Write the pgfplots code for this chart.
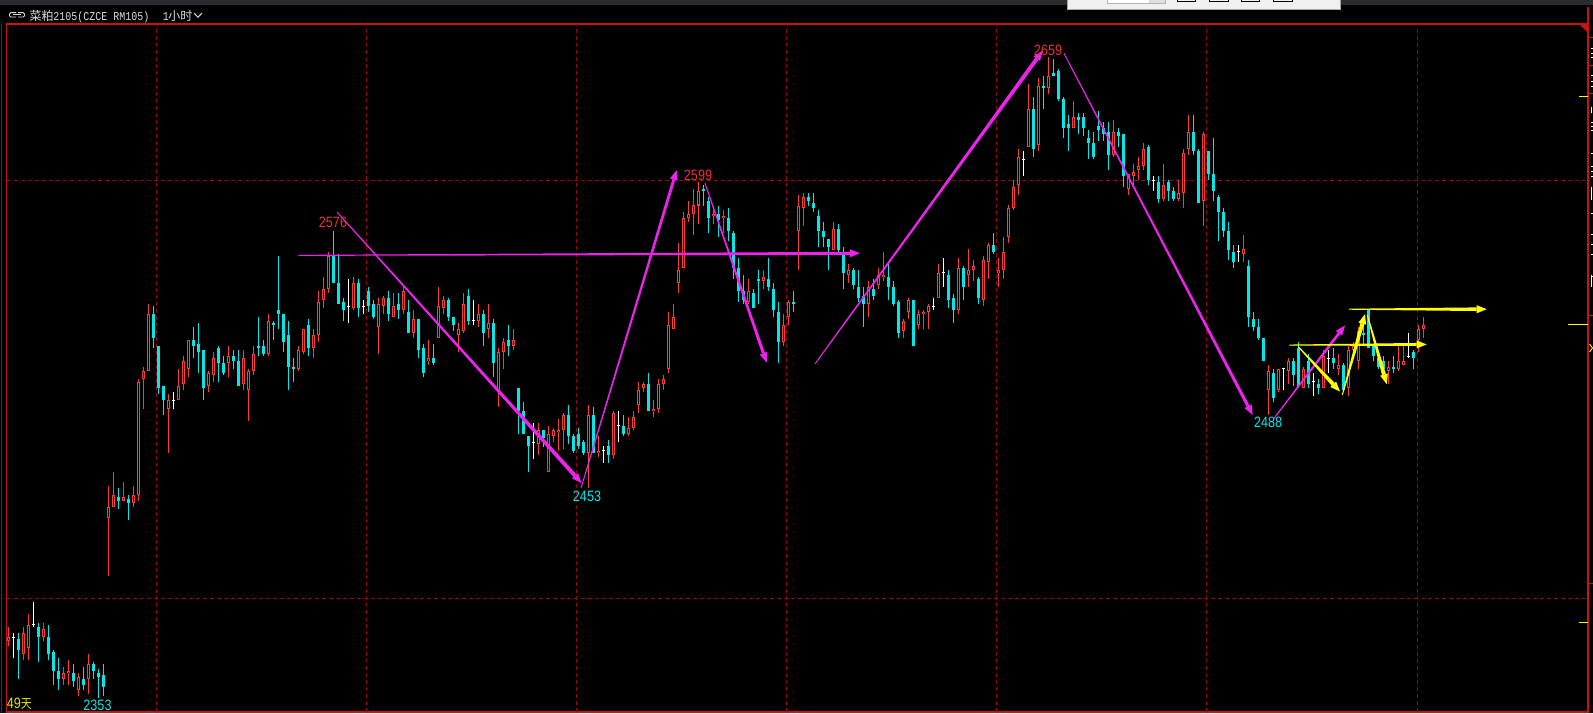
\documentclass[border=0pt]{standalone}
\usepackage{pgfplots}
\usepackage{pgfplotstable}
\pgfplotsset{compat=1.18}
\usetikzlibrary{calc}
\usepackage{fontspec}
\setmainfont{Liberation Sans}
\newfontfamily\cjk{Noto Sans CJK SC}
\newfontfamily\mono{Liberation Mono}

\definecolor{upred}{RGB}{255,58,58}
\definecolor{dncyan}{RGB}{0,232,232}
\definecolor{framered}{RGB}{205,18,18}
\definecolor{gridred}{RGB}{150,8,8}
\definecolor{magentapen}{RGB}{235,35,235}
\definecolor{yel}{RGB}{255,255,0}
\definecolor{lblred}{RGB}{235,50,50}
\definecolor{topbar}{RGB}{42,44,48}
\definecolor{titlegray}{RGB}{220,220,220}

% hourly candles: index, open, high, low, close
\pgfplotstableread{
i O H L C
0 2380 2387 2378 2382
1 2382 2384 2372 2382
2 2381 2384 2362 2376
3 2374 2387 2371 2384
4 2377 2393 2371 2388
5 2388 2399 2387 2388
6 2387 2389 2370 2382
7 2382 2389 2380 2386
8 2382 2388 2371 2374
9 2375 2376 2359 2366
10 2366 2372 2357 2362
11 2362 2368 2359 2365
12 2365 2371 2359 2366
13 2365 2369 2358 2361
14 2357 2365 2354 2363
15 2362 2368 2357 2359
16 2362 2374 2355 2369
17 2369 2370 2362 2366
18 2365 2367 2353 2363
19 2364 2369 2354 2358
20 2439 2454 2411 2444
21 2444 2461 2444 2450
22 2449 2453 2443 2447
23 2447 2456 2447 2449
24 2448 2450 2438 2446
25 2446 2454 2444 2450
26 2450 2505 2447 2504
27 2505 2511 2491 2509
28 2509 2541 2509 2536
29 2536 2540 2520 2525
30 2521 2521 2498 2501
31 2502 2502 2488 2495
32 2491 2498 2470 2495
33 2495 2499 2491 2495
34 2495 2510 2495 2502
35 2503 2516 2500 2514
36 2510 2524 2506 2524
37 2524 2530 2515 2521
38 2522 2532 2508 2518
39 2519 2519 2495 2501
40 2502 2509 2499 2508
41 2507 2518 2504 2515
42 2520 2521 2504 2513
43 2513 2516 2507 2508
44 2513 2521 2506 2516
45 2516 2519 2510 2514
46 2514 2519 2502 2502
47 2503 2519 2500 2515
48 2500 2510 2485 2509
49 2509 2521 2507 2517
50 2521 2535 2516 2520
51 2521 2524 2516 2517
52 2517 2536 2516 2533
53 2532 2533 2524 2531
54 2538 2564 2529 2536
55 2536 2536 2518 2523
56 2526 2533 2500 2511
57 2511 2515 2504 2510
58 2510 2521 2509 2519
59 2518 2529 2517 2529
60 2531 2534 2516 2520
61 2520 2529 2515 2526
62 2526 2547 2523 2542
63 2543 2554 2539 2548
64 2548 2566 2546 2564
65 2564 2576 2551 2551
66 2551 2565 2541 2541
67 2542 2544 2533 2538
68 2540 2553 2532 2540
69 2539 2554 2538 2551
70 2551 2553 2535 2539
71 2540 2543 2536 2540
72 2547 2549 2537 2540
73 2541 2543 2534 2535
74 2530 2544 2517 2541
75 2540 2545 2536 2544
76 2544 2547 2533 2536
77 2535 2546 2535 2540
78 2541 2546 2534 2538
79 2538 2549 2536 2547
80 2537 2543 2527 2527
81 2527 2538 2525 2534
82 2534 2534 2515 2519
83 2520 2522 2506 2508
84 2514 2524 2512 2515
85 2515 2522 2512 2513
86 2525 2549 2525 2540
87 2539 2545 2536 2543
88 2543 2544 2533 2535
89 2535 2535 2528 2531
90 2526 2532 2518 2529
91 2528 2546 2527 2541
92 2545 2548 2531 2533
93 2533 2543 2531 2533
94 2533 2541 2530 2536
95 2536 2538 2521 2527
96 2529 2541 2525 2532
97 2532 2534 2506 2513
98 2500 2520 2492 2518
99 2518 2525 2510 2523
100 2524 2531 2516 2521
101 2521 2529 2519 2524
102 2501 2501 2479 2490
103 2490 2494 2479 2479
104 2478 2478 2461 2473
105 2475 2484 2467 2475
106 2474 2484 2469 2481
107 2481 2481 2473 2477
108 2461 2483 2461 2479
109 2478 2482 2475 2481
110 2480 2486 2471 2481
111 2481 2489 2472 2488
112 2488 2493 2474 2478
113 2478 2479 2470 2471
114 2479 2482 2472 2473
115 2475 2476 2469 2470
116 2470 2493 2453 2488
117 2488 2492 2470 2470
118 2470 2478 2468 2471
119 2471 2473 2465 2471
120 2473 2476 2465 2469
121 2469 2490 2467 2489
122 2483 2490 2475 2483
123 2483 2488 2478 2479
124 2479 2487 2478 2482
125 2482 2490 2481 2487
126 2493 2504 2489 2500
127 2501 2504 2499 2503
128 2503 2508 2490 2490
129 2490 2495 2487 2491
130 2491 2505 2489 2503
131 2503 2507 2500 2505
132 2510 2537 2508 2531
133 2529 2541 2529 2535
134 2551 2570 2546 2557
135 2558 2585 2558 2582
136 2582 2590 2580 2584
137 2584 2596 2574 2588
138 2588 2599 2579 2595
139 2596 2598 2588 2595
140 2590 2592 2575 2582
141 2583 2586 2579 2584
142 2584 2588 2573 2581
143 2582 2586 2575 2583
144 2582 2587 2571 2576
145 2575 2576 2553 2558
146 2558 2563 2542 2547
147 2547 2555 2541 2543
148 2542 2553 2541 2547
149 2546 2548 2539 2539
150 2553 2557 2541 2552
151 2552 2557 2548 2554
152 2553 2563 2547 2549
153 2548 2551 2535 2538
154 2537 2542 2513 2523
155 2523 2536 2521 2531
156 2535 2543 2531 2542
157 2542 2547 2537 2541
158 2576 2593 2557 2588
159 2587 2594 2578 2592
160 2592 2594 2588 2590
161 2589 2594 2585 2587
162 2583 2586 2568 2576
163 2576 2580 2568 2573
164 2572 2572 2557 2568
165 2567 2580 2567 2577
166 2577 2579 2566 2567
167 2565 2568 2548 2556
168 2555 2560 2551 2557
169 2557 2558 2548 2550
170 2549 2557 2542 2544
171 2545 2549 2530 2541
172 2541 2552 2535 2549
173 2548 2553 2543 2545
174 2550 2558 2548 2555
175 2554 2566 2552 2555
176 2554 2560 2543 2549
177 2549 2552 2540 2541
178 2542 2543 2525 2527
179 2528 2534 2525 2533
180 2537 2544 2534 2543
181 2543 2543 2521 2521
182 2531 2538 2529 2536
183 2536 2538 2529 2537
184 2537 2541 2529 2540
185 2540 2544 2538 2540
186 2544 2560 2544 2556
187 2556 2563 2549 2556
188 2555 2557 2539 2543
189 2544 2546 2532 2538
190 2538 2563 2536 2558
191 2558 2559 2543 2549
192 2555 2567 2549 2557
193 2557 2562 2552 2559
194 2553 2554 2541 2544
195 2543 2564 2540 2562
196 2561 2570 2553 2569
197 2569 2575 2565 2566
198 2556 2563 2549 2557
199 2557 2573 2553 2566
200 2573 2588 2570 2587
201 2587 2600 2586 2597
202 2598 2615 2593 2611
203 2610 2614 2602 2610
204 2616 2646 2616 2634
205 2634 2640 2611 2615
206 2617 2649 2614 2645
207 2645 2650 2634 2644
208 2644 2659 2641 2650
209 2651 2658 2650 2650
210 2652 2653 2638 2639
211 2639 2640 2620 2625
212 2627 2631 2614 2625
213 2625 2638 2625 2630
214 2630 2632 2622 2629
215 2630 2632 2621 2625
216 2620 2624 2610 2618
217 2618 2623 2610 2611
218 2626 2633 2619 2624
219 2625 2628 2619 2622
220 2623 2628 2605 2612
221 2612 2629 2611 2623
222 2623 2625 2616 2621
223 2622 2622 2597 2602
224 2596 2603 2593 2603
225 2602 2608 2598 2604
226 2605 2611 2600 2607
227 2607 2618 2605 2615
228 2616 2617 2598 2600
229 2600 2602 2595 2600
230 2599 2602 2589 2591
231 2591 2608 2590 2598
232 2599 2600 2590 2595
233 2595 2597 2590 2591
234 2591 2600 2590 2594
235 2594 2615 2587 2613
236 2615 2631 2612 2623
237 2623 2631 2612 2614
238 2614 2615 2589 2589
239 2590 2623 2578 2622
240 2614 2614 2600 2603
241 2603 2620 2590 2595
242 2592 2593 2571 2585
243 2585 2587 2573 2576
244 2576 2580 2562 2567
245 2566 2569 2558 2561
246 2566 2569 2561 2566
247 2565 2574 2561 2567
248 2559 2562 2530 2535
249 2534 2537 2528 2530
250 2530 2534 2524 2525
251 2525 2525 2514 2514
252 2500 2512 2488 2509
253 2508 2510 2494 2496
254 2500 2510 2499 2510
255 2510 2510 2500 2510
256 2509 2515 2503 2514
257 2514 2515 2502 2507
258 2520 2523 2501 2502
259 2501 2511 2501 2510
260 2514 2517 2501 2503
261 2504 2508 2497 2504
262 2503 2505 2498 2501
263 2501 2519 2501 2516
264 2515 2519 2508 2515
265 2515 2520 2510 2513
266 2510 2517 2507 2512
267 2512 2513 2500 2500
268 2501 2521 2497 2519
269 2519 2523 2518 2521
270 2514 2530 2510 2528
271 2527 2532 2521 2526
272 2538 2538 2520 2520
273 2521 2521 2514 2516
274 2515 2517 2510 2511
275 2514 2516 2508 2510
276 2509 2514 2503 2511
277 2511 2516 2508 2510
278 2510 2521 2509 2514
279 2512 2521 2512 2514
280 2516 2527 2515 2516
281 2518 2519 2510 2515
282 2524 2531 2518 2529
283 2529 2535 2525 2531
}\candles

% hand-drawn style arrow: thin start, thick end, triangular head
\newcommand{\penarrow}[4]{%
  \coordinate (pa) at (axis cs:#2);
  \coordinate (pb) at (axis cs:#3);
  \coordinate (pc) at ($(pb)!10pt!(pa)$);
  \fill[#1] ($(pa)!0.5pt!90:(pc)$) -- ($(pc)!#4!-90:(pa)$) -- ($(pc)!#4!90:(pa)$) -- ($(pa)!0.5pt!-90:(pc)$) -- cycle;
  \fill[#1] (pb) -- ($(pc)!4pt!-90:(pa)$) -- ($(pc)!4pt!90:(pa)$) -- cycle;
}

\pgfplotsset{
  wick/.style={draw=none, mark=none,
    error bars/.cd, y dir=both, y explicit, error mark=none,
    error bar style={draw=#1, line width=1pt}},
}
\tikzset{
  lbl/.style={inner sep=0pt, font=\fontsize{15}{15}\selectfont, xscale=0.84},
  dgrid/.style={draw=gridred, line width=1pt, dash pattern=on 4pt off 3pt},
}

\begin{document}
\begin{tikzpicture}
\fill[black] (0pt,0pt) rectangle (1593pt,713pt);
\path[use as bounding box] (0pt,0pt) rectangle (1593pt,713pt);
\fill[topbar] (0pt,708pt) rectangle (1593pt,713pt);

\begin{axis}[
  at={(6.5pt,1pt)}, anchor=south west,
  scale only axis, width=1581.5pt, height=688pt,
  xmin=-0.36, xmax=315.94, ymin=2346.3, ymax=2674.6,
  axis line style={draw=framered, line width=1.3pt},
  xtick=\empty, ytick=\empty,
]
% session separators and price guides
\foreach \gx in {29.6,71.64,113.64,155.68,197.7,239.72,281.74}
  {\edef\tmp{\noexpand\draw[dgrid] (axis cs:\gx,2346.3) -- (axis cs:\gx,2674.6);}\tmp}
\draw[dgrid] (axis cs:-0.36,2600) -- (axis cs:315.94,2600);
\draw[dgrid] (axis cs:-0.36,2400.6) -- (axis cs:315.94,2400.6);

% wicks
\addplot[restrict expr to domain={\thisrow{C}-\thisrow{O}}{0.1:999}, wick=upred]
  table[x=i, y expr={(\thisrow{H}+\thisrow{L})/2}, y error expr={(\thisrow{H}-\thisrow{L})/2}] {\candles};
\addplot[restrict expr to domain={\thisrow{C}-\thisrow{O}}{-999:-0.1}, wick=dncyan]
  table[x=i, y expr={(\thisrow{H}+\thisrow{L})/2}, y error expr={(\thisrow{H}-\thisrow{L})/2}] {\candles};
\addplot[restrict expr to domain={\thisrow{C}-\thisrow{O}}{-0.05:0.05}, wick=white]
  table[x=i, y expr={(\thisrow{H}+\thisrow{L})/2}, y error expr={(\thisrow{H}-\thisrow{L})/2}] {\candles};

% up bodies: hollow red
\addplot[draw=none, mark=none, restrict expr to domain={\thisrow{C}-\thisrow{O}}{0.1:999},
  error bars/.cd, y dir=both, y explicit, error mark=none,
  error bar style={draw=upred, line width=3.2pt}]
  table[x=i, y expr={(\thisrow{O}+\thisrow{C})/2}, y error expr={(\thisrow{C}-\thisrow{O})/2}] {\candles};
\addplot[draw=none, mark=none, restrict expr to domain={\thisrow{C}-\thisrow{O}}{0.1:999},
  error bars/.cd, y dir=both, y explicit, error mark=none,
  error bar style={draw=black, line width=1.2pt}]
  table[x=i, y expr={(\thisrow{O}+\thisrow{C})/2}, y error expr={max((\thisrow{C}-\thisrow{O})/2-0.48,0)}] {\candles};

% down bodies: filled cyan
\addplot[draw=none, mark=none, restrict expr to domain={\thisrow{C}-\thisrow{O}}{-999:-0.1},
  error bars/.cd, y dir=both, y explicit, error mark=none,
  error bar style={draw=dncyan, line width=3.2pt}]
  table[x=i, y expr={(\thisrow{O}+\thisrow{C})/2}, y error expr={max((\thisrow{O}-\thisrow{C})/2,0.3)}] {\candles};

% doji ticks
\addplot[only marks, mark=-, mark size=1.7pt, mark options={draw=white, line width=1pt},
  restrict expr to domain={\thisrow{C}-\thisrow{O}}{-0.05:0.05}]
  table[x=i, y=O] {\candles};

% trend arrows
\penarrow{magentapen}{65.74,2584.9}{114.68,2455.5}{2pt}
\penarrow{magentapen}{58.0,2564.2}{170.34,2565.2}{1.5pt}
\penarrow{magentapen}{114.54,2453.1}{133.68,2604.9}{1.5pt}
\penarrow{magentapen}{139.34,2598.6}{151.68,2513.0}{1.6pt}
\penarrow{magentapen}{161.34,2512.4}{206.88,2661.9}{2pt}
\penarrow{magentapen}{211.14,2660.6}{248.88,2488.0}{1.6pt}
\penarrow{magentapen}{253.0,2486.0}{267.34,2530.8}{1.4pt}
\penarrow{yel}{256.2,2521.4}{283.68,2521.7}{1.5pt}
\penarrow{yel}{268.14,2538.5}{295.68,2538.5}{1.8pt}
\penarrow{yel}{258.0,2520.6}{266.34,2499.2}{2pt}
\penarrow{yel}{266.8,2497.6}{271.34,2536.2}{2pt}
\penarrow{yel}{271.8,2535.8}{275.68,2502.7}{2pt}

% swing labels
\node[lbl, text=lblred] at (axis cs:64.94,2580.1) {2576};
\node[lbl, text=dncyan] at (axis cs:115.74,2449.4) {2453};
\node[lbl, text=lblred] at (axis cs:137.94,2602.6) {2599};
\node[lbl, text=lblred] at (axis cs:207.94,2662.2) {2659};
\node[lbl, text=dncyan] at (axis cs:251.94,2484.7) {2488};
\node[lbl, text=dncyan] at (axis cs:17.84,2349.6) {2353};
\node[lbl, text=yel!90!black, anchor=west] at (axis cs:-0.32,2350.4) {49{\cjk\fontsize{13}{13}\selectfont 天}};
\end{axis}

\begin{scope}[x=1pt, y=1pt]
% left border and right price scale remains
\draw[gray!45!black, line width=1.5] (1.5,0) -- (1.5,690);
\draw[framered, line width=1.3] (1588,689) -- (1588,706);
\fill[framered] (1579,689) -- (1588,689) -- (1588,680) -- cycle;
\foreach \yy in {675.5,647,619,397,130} \draw[framered, line width=1] (1588,\yy) -- (1593,\yy);
\draw[yel, line width=1] (1579,616.7) -- (1588,616.7);
\draw[yel!80!white, line width=1] (1568,388.5) -- (1588,388.5);
\draw[yel, line width=1] (1579,90.3) -- (1588,90.3);
\draw[yel, line width=0.9] (1589.5,369) -- (1592.5,365) -- (1589.5,361);
\foreach \yy in {663.7,659,654.7,637,631,625.7,590.3,586.3,581.7,559,546.3,541.3,536.3,499,478,468,458,436}
  \fill[white] (1590.7,\yy) rectangle (1593,\yy+1);
\fill[white] (1590.7,600.3) rectangle (1592,606.3);
\fill[white] (1590.7,513) rectangle (1592,526.3);
\fill[white] (1590.7,426) rectangle (1592,438);

% title bar
\draw[titlegray, line width=0.9, rounded corners=1.2] (16,696) -- (9.5,696) -- (9.5,700.3) -- (16,700.3);
\draw[titlegray, line width=0.9, rounded corners=1.2] (18,696) -- (24.5,696) -- (24.5,700.3) -- (18,700.3);
\draw[titlegray, line width=0.9] (13,698.2) -- (21,698.2);
\node[anchor=base west, inner sep=0pt, text=titlegray, font=\cjk\fontsize{12}{12}\selectfont] at (29.3,692.7) {菜粕};
\node[anchor=base west, inner sep=0pt, text=titlegray, font=\mono\fontsize{12}{12}\selectfont, xscale=0.833] at (53.3,692.7) {2105(CZCE RM105)};
\node[anchor=base west, inner sep=0pt, text=titlegray, font=\mono\fontsize{12}{12}\selectfont, xscale=0.833] at (162.7,692.7) {1};
\node[anchor=base west, inner sep=0pt, text=titlegray, font=\cjk\fontsize{12}{12}\selectfont] at (168.2,692.7) {小时};
\draw[titlegray, line width=1] (194,700) -- (198,695.7) -- (202,700);

% toolbar box at the top
\fill[gray!12] (1067,703.5) rectangle (1340,713);
\draw[gray!70, line width=0.8] (1067,713) -- (1067,703.5) -- (1340,703.5) -- (1340,713);
\fill[white] (1107,709.2) rectangle (1165,713);
\fill[gray!25] (1149,709.2) rectangle (1165,713);
\draw[gray!60, line width=0.7] (1107,713) -- (1107,709.2) -- (1165,709.2) -- (1165,713);
\foreach \xa/\xb in {1177/1195,1209/1228,1241/1259,1273/1292}
  \draw[black, line width=0.9] (\xa,713) -- (\xa,711.8) -- (\xb,711.8) -- (\xb,713);
\end{scope}
\end{tikzpicture}
\end{document}
